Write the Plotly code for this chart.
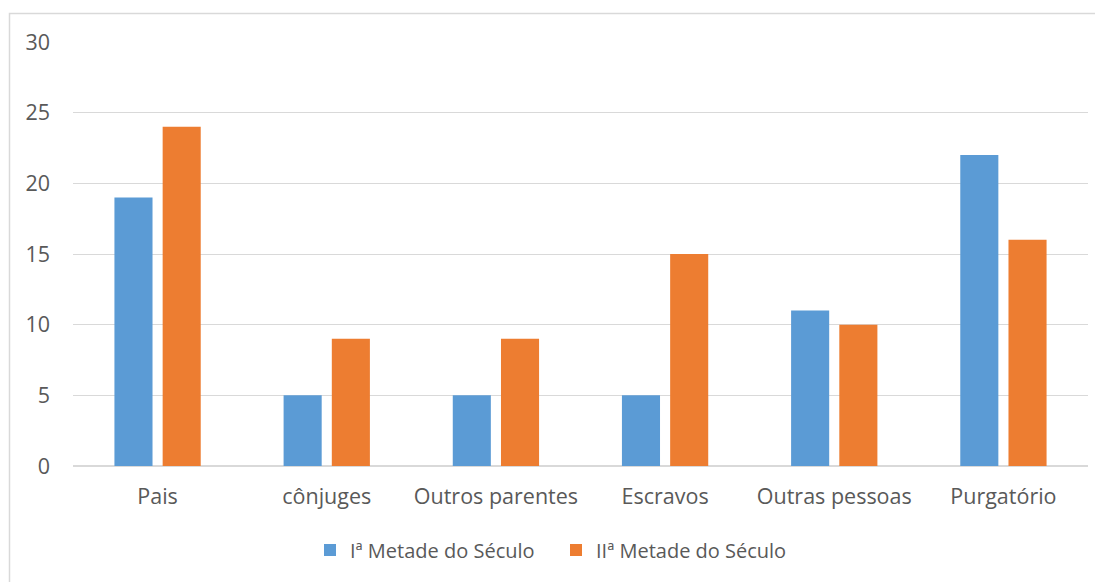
import plotly.graph_objects as go

categories = ["Pais", "cônjuges", "Outros parentes", "Escravos", "Outras pessoas", "Purgatório"]
serie1_name = "Iª Metade do Século"
serie2_name = "IIª Metade do Século"
serie1 = [19, 5, 5, 5, 11, 22]
serie2 = [24, 9, 9, 15, 10, 16]
y_ticks = [0, 5, 10, 15, 20, 25, 30]

OFF = 8  # page body margin
W, H = 1103 - OFF, 582 - OFF
L, R, T = 73 - OFF, 15, 42 - OFF
B = H - (466 - OFF)
pw, ph = W - L - R, H - T - B

def px_x(p):
    return (p - OFF - L) / pw

def px_y(p):
    return (H - B - (p - OFF)) / ph

font = dict(family="Open Sans", size=21.5, color="#595959")
legend_font = dict(family="Open Sans", size=20, color="#595959")

fig = go.Figure()
fig.add_trace(go.Bar(x=categories, y=serie1, name=serie1_name, marker=dict(color="#5B9BD5", line=dict(width=0))))
fig.add_trace(go.Bar(x=categories, y=serie2, name=serie2_name, marker=dict(color="#ED7D31", line=dict(width=0))))

fig.update_layout(
    width=W, height=H,
    margin=dict(l=L, r=R, t=T, b=B),
    paper_bgcolor="white", plot_bgcolor="white",
    barmode="group", bargap=0.43, bargroupgap=0.21,
    font=font,
    showlegend=True,
    legend=dict(orientation="h", x=px_x(556), xanchor="center", y=px_y(550), yanchor="middle",
                font=legend_font, traceorder="normal", entrywidth=201, entrywidthmode="pixels"),
    xaxis=dict(showgrid=False, showline=False, ticks="", tickfont=font, ticklabelstandoff=15),
    yaxis=dict(range=[0, 30], tickvals=y_ticks, showgrid=True, gridcolor="#D9D9D9", gridwidth=1,
               zeroline=True, zerolinecolor="#D9D9D9", zerolinewidth=1.5, showline=False,
               ticks="", tickfont=font, ticklabelstandoff=22),
    shapes=[dict(type="rect", xref="paper", yref="paper",
                 x0=px_x(9.5), x1=px_x(1102.5), y0=px_y(600), y1=px_y(13.5),
                 line=dict(color="#D9D9D9", width=1.5), fillcolor="rgba(0,0,0,0)", layer="below")],
)

fig.write_html("out.html")
